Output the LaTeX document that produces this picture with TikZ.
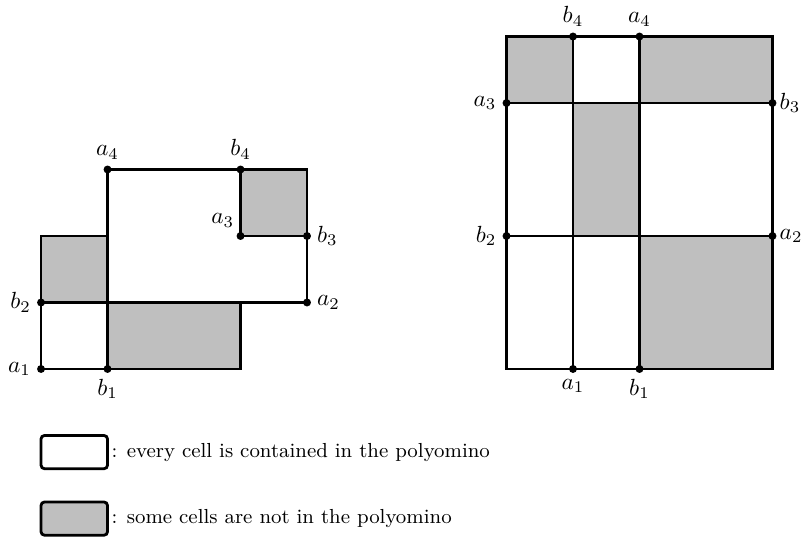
\documentclass[tikz,border=0pt]{standalone}
\usetikzlibrary{positioning}

\begin{document}
\begin{tikzpicture}[
  dot/.style={circle, fill, inner sep=0pt, minimum size=3.4pt},
  grid/.style={very thick},
  notin/.style={fill=lightgray},
  key/.style={draw, very thick, rounded corners=1.5pt, minimum width=1cm, minimum height=0.5cm, inner sep=0pt},
  keytext/.style={inner sep=1pt, font=\fontsize{8.7pt}{10.4pt}\selectfont},
  every label/.style={inner sep=2.2pt}
]
\useasboundingbox (-0.617,-2.556) rectangle (11.459,5.549);

% left polyomino
\fill[notin] (0,1) rectangle (1,2);
\fill[notin] (1,0) rectangle (3,1);
\fill[notin] (3,2) rectangle (4,3);
\draw[grid] (0,0) -- (3,0) -- (3,1);
\draw[grid] (0,0) -- (0,2) -- (1,2);
\draw[grid] (1,0) -- (1,3) -- (4,3) -- (4,1);
\draw[grid] (0,1) -- (4,1);
\draw[grid] (3,3) -- (3,2) -- (4,2);
\node[dot, label=left:$a_1$] (la1) at (0,0) {};
\node[dot, label=below:$b_1$] (lb1) at (1,0) {};
\node[dot, label=left:$b_2$] (lb2) at (0,1) {};
\node[dot, label=right:$a_2$] (la2) at (4,1) {};
\node[dot, label={[xshift=1pt]above left:$a_3$}] (la3) at (3,2) {};
\node[dot, label=right:$b_3$] (lb3) at (4,2) {};
\node[dot, label=above:$a_4$] (la4) at (1,3) {};
\node[dot, label=above:$b_4$] (lb4) at (3,3) {};

% right polyomino
\fill[notin] (7,4) rectangle (8,5);
\fill[notin] (9,4) rectangle (11,5);
\fill[notin] (8,2) rectangle (9,4);
\fill[notin] (9,0) rectangle (11,2);
\draw[grid] (7,0) rectangle (11,5);
\draw[grid] (8,0) -- (8,5);
\draw[grid] (9,0) -- (9,5);
\draw[grid] (7,2) -- (11,2);
\draw[grid] (7,4) -- (11,4);
\node[dot, label=below:$a_1$] (ra1) at (8,0) {};
\node[dot, label=below:$b_1$] (rb1) at (9,0) {};
\node[dot, label=left:$b_2$] (rb2) at (7,2) {};
\node[dot, label={[inner sep=1pt]right:$a_2$}] (ra2) at (11,2) {};
\node[dot, label=left:$a_3$] (ra3) at (7,4) {};
\node[dot, label={[inner sep=1pt]right:$b_3$}] (rb3) at (11,4) {};
\node[dot, label=above:$b_4$] (rb4) at (8,5) {};
\node[dot, label=above:$a_4$] (ra4) at (9,5) {};

% legend
\node[key] (inkey) at (0.5,-1.25) {};
\node[keytext, right=0pt of inkey] (intext) {: every cell is contained in the polyomino};
\node[key, notin] (outkey) at (0.5,-2.25) {};
\node[keytext, right=0pt of outkey] (outtext) {: some cells are not in the polyomino};
\end{tikzpicture}
\end{document}
